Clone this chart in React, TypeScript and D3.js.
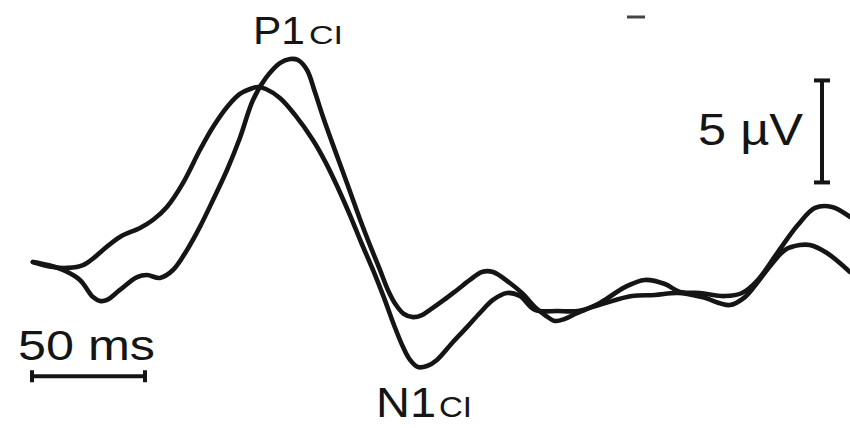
import React from "react";
import * as d3 from "d3";

// two averaged ERP traces, time in ms, amplitude in µV (positive up)
const timesA = [0.4, 9.3, 15.9, 22.6, 27.9, 31.4, 38.9, 47.8, 53.5, 59.7, 66.8, 74.3, 80.1, 86.7, 92.0, 96.5, 100.0, 103.5, 109.7, 116.4, 124.3, 130.1, 135.4, 140.7, 145.6, 150.9, 155.8, 160.2, 164.2, 167.3, 170.8, 174.8, 179.2, 186.3, 192.5, 198.2, 204.0, 210.2, 215.9, 222.6, 232.7, 241.6, 252.2, 265.5, 275.7, 285.8, 296.5, 308.8, 315.5, 321.2, 327.4, 333.2, 339.8, 344.2, 351.8, 362.0];
const valuesA = [0, -0.25, -0.29, -0.15, 0.25, 0.59, 1.23, 1.67, 2.06, 2.7, 3.87, 5.49, 6.62, 7.65, 8.24, 8.48, 8.58, 8.48, 8.04, 7.21, 5.98, 4.85, 3.63, 2.3, 0.98, -0.39, -1.76, -3.09, -4.17, -4.8, -5.15, -5.1, -4.8, -3.92, -3.19, -2.5, -1.86, -1.52, -1.67, -2.35, -2.4, -2.4, -2.06, -1.67, -1.62, -1.52, -1.72, -2.11, -1.72, -0.98, -0.1, 0.59, 0.83, 0.83, 0.44, -0.49];

const timesB = [0.4, 7.1, 13.7, 21.2, 27.0, 30.1, 33.2, 38.9, 46.5, 50.9, 56.6, 62.4, 68.6, 74.3, 80.1, 86.3, 92.0, 97.8, 103.5, 109.7, 114.2, 117.7, 121.7, 125.2, 128.8, 133.2, 137.6, 141.6, 145.6, 150.4, 154.0, 157.5, 161.1, 164.6, 168.6, 172.6, 176.1, 182.3, 188.1, 193.8, 199.1, 204.0, 211.5, 216.8, 222.6, 227.0, 231.4, 235.8, 240.3, 251.3, 262.4, 271.2, 280.1, 286.7, 295.6, 306.6, 314.2, 321.2, 330.1, 338.9, 346.5, 354.0, 362.0];
const valuesB = [0, -0.15, -0.39, -0.88, -1.72, -1.91, -1.86, -1.37, -0.74, -0.64, -0.78, -0.39, 0.59, 1.72, 3.04, 4.51, 6.08, 7.94, 9.02, 9.75, 9.95, 9.9, 9.41, 8.33, 7.11, 5.74, 4.41, 3.19, 1.96, 0.59, -0.39, -1.37, -2.11, -2.55, -2.7, -2.6, -2.35, -1.86, -1.37, -0.88, -0.49, -0.49, -1.03, -1.52, -2.21, -2.6, -2.89, -2.79, -2.55, -2.01, -1.23, -0.88, -1.08, -1.47, -1.52, -1.67, -1.52, -0.88, 0.49, 1.81, 2.65, 2.7, 2.21];

// scale bars
const timeBar = [0, 50]; // ms
const timeBarLevel = -5.6; // µV
const ampBar = [3.9, 8.9]; // µV
const ampBarTime = 349.6; // ms

const W = 850;
const H = 428;
const FONT = "'Liberation Sans', Arial, Helvetica, sans-serif";
const INK = "#151515";

export default function App() {
  const x = d3.scaleLinear().domain([0, 362]).range([32, 850]);
  const y = d3.scaleLinear().domain([0, 5]).range([262, 160]);

  const line = d3
    .line<[number, number]>()
    .x((d) => x(d[0]))
    .y((d) => y(d[1]))
    .curve(d3.curveCatmullRom.alpha(0.5));

  const pathOf = (ts: number[], vs: number[]) =>
    line(ts.map((t, i) => [t, vs[i]] as [number, number])) || "";

  const tb0 = x(timeBar[0]);
  const tb1 = x(timeBar[1]);
  const tbY = y(timeBarLevel);
  const abX = x(ampBarTime);
  const ab0 = y(ampBar[0]);
  const ab1 = y(ampBar[1]);

  return (
    <svg
      width={W}
      height={H}
      style={{ position: "absolute", left: 0, top: 0, background: "#fff" }}
    >
      <path d={pathOf(timesA, valuesA)} fill="none" stroke={INK} strokeWidth={4.6} strokeLinejoin="round" strokeLinecap="round" />
      <path d={pathOf(timesB, valuesB)} fill="none" stroke={INK} strokeWidth={4.6} strokeLinejoin="round" strokeLinecap="round" />

      {/* time scale bar */}
      <g stroke={INK} strokeWidth={4}>
        <line x1={tb0} x2={tb1} y1={tbY} y2={tbY} />
        <line x1={tb0} x2={tb0} y1={tbY - 6} y2={tbY + 6} />
        <line x1={tb1} x2={tb1} y1={tbY - 6} y2={tbY + 6} />
      </g>
      {/* amplitude scale bar */}
      <g stroke={INK} strokeWidth={4}>
        <line x1={abX} x2={abX} y1={ab0} y2={ab1} />
        <line x1={abX - 8} x2={abX + 8} y1={ab0} y2={ab0} />
        <line x1={abX - 8} x2={abX + 8} y1={ab1} y2={ab1} />
      </g>

      <line x1={627} x2={645} y1={17} y2={17} stroke="#444" strokeWidth={3} />

      <g fontFamily={FONT} fill={INK}>
        <text x={253} y={44} fontSize={39} textLength={52} lengthAdjust="spacingAndGlyphs">P1</text>
        <text x={309} y={44} fontSize={25} textLength={34} lengthAdjust="spacingAndGlyphs">CI</text>
        <text x={376} y={417} fontSize={42} textLength={60} lengthAdjust="spacingAndGlyphs">N1</text>
        <text x={439} y={417} fontSize={29} textLength={33} lengthAdjust="spacingAndGlyphs">CI</text>
        <text x={698} y={145} fontSize={44} textLength={105} lengthAdjust="spacingAndGlyphs">5 µV</text>
        <text x={18} y={360} fontSize={42} textLength={137} lengthAdjust="spacingAndGlyphs">50 ms</text>
      </g>
    </svg>
  );
}
